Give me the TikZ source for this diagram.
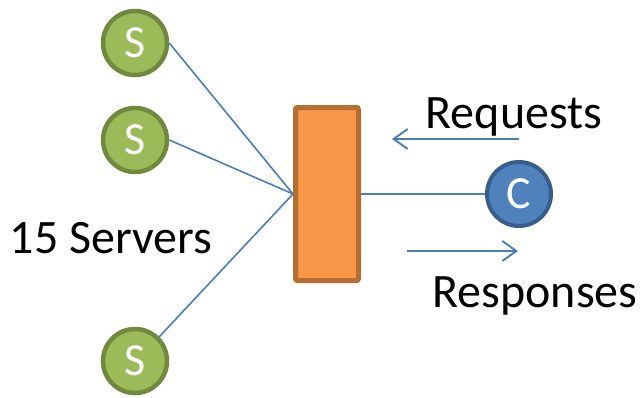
\documentclass[tikz,border=0pt]{standalone}
\usepackage{fontspec}
\setmainfont{Carlito}
\usetikzlibrary{arrows.meta}
\definecolor{srvfill}{HTML}{9BBB59}
\definecolor{srvedge}{HTML}{71893F}
\definecolor{boxfill}{HTML}{F79646}
\definecolor{boxedge}{HTML}{B66D31}
\definecolor{cfill}{HTML}{4F81BD}
\definecolor{cedge}{HTML}{385D8A}
\definecolor{link}{HTML}{4A7EBB}
\begin{document}
\begin{tikzpicture}[x=1pt,y=-1pt,
  server/.style={circle,fill=srvfill,draw=srvedge,line width=4.5pt,minimum size=64pt,inner sep=0pt,text=white,font=\fontsize{46}{46}\selectfont},
  client/.style={circle,fill=cfill,draw=cedge,line width=4pt,minimum size=64pt,inner sep=0pt,text=white,font=\fontsize{46}{46}\selectfont},
  lbbox/.style={rectangle,rounded corners=2pt,fill=boxfill,draw=boxedge,line width=5pt,minimum width=63pt,minimum height=173pt,inner sep=0pt},
  wire/.style={draw=link,line width=1.6pt},
  flow/.style={draw=link,line width=1.9pt,-{Straight Barb[length=14pt,width=20pt,line width=1.9pt]}},
  label/.style={font=\fontsize{48}{48}\selectfont,text=black}]
\useasboundingbox (0,0) rectangle (640,397);
\node[server] (s1) at (135,43) {S};
\node[server] (s2) at (135,140) {S};
\node[server] (s3) at (135,361) {S};
\node[lbbox] (lb) at (327,194) {};
\node[client] (c) at (519,194) {C};
\node[label] (srvs) at (111,238) {15 Servers};
\node[label] (req) at (514,117) {Requests};
\node[label] (resp) at (535,296) {Responses};
\coordinate (reqa) at (519,139);
\coordinate (reqb) at (392,139);
\coordinate (respa) at (407,251);
\coordinate (respb) at (518,251);
% server links leave each circle from its rim and meet at the box
\draw[wire] (s1.east) -- (lb.west);
\draw[wire] (s2.east) -- (lb.west);
\draw[wire] (s3.north east) -- (lb.west);
\draw[wire] (lb.east) -- (c.west);
\draw[flow] (reqa) -- (reqb);
\draw[flow] (respa) -- (respb);
\end{tikzpicture}
\end{document}
